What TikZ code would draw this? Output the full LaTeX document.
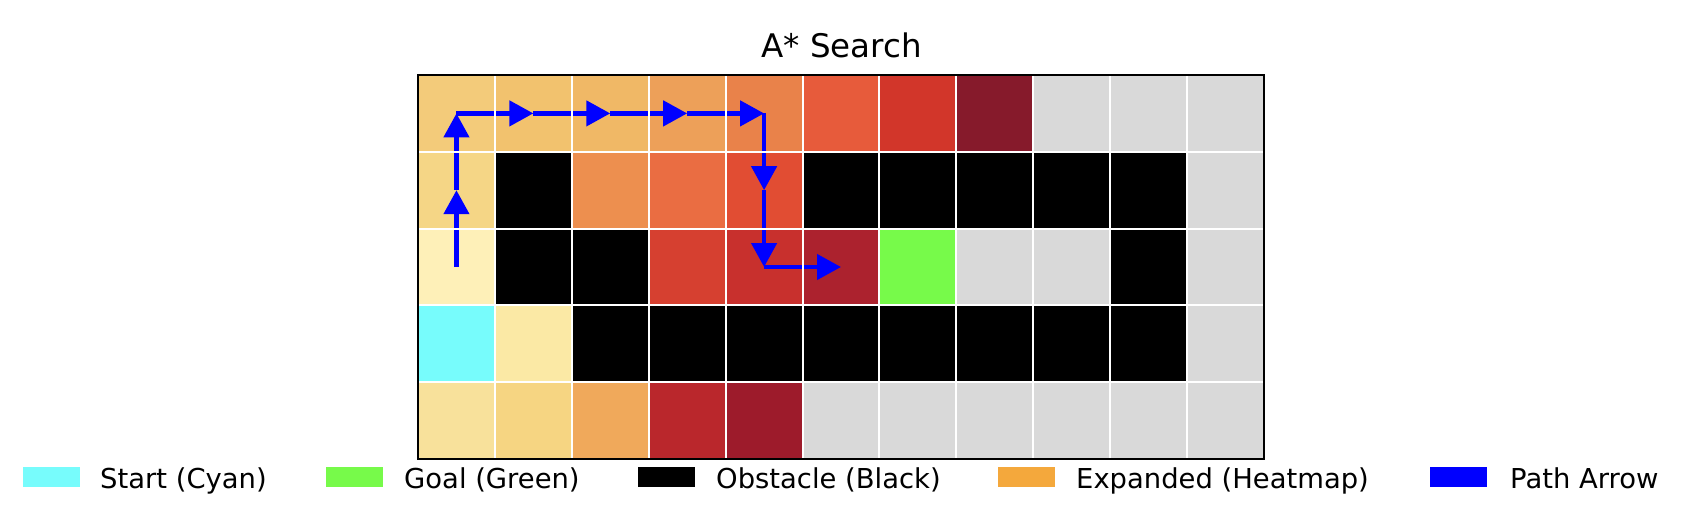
\documentclass[tikz,border=0pt]{standalone}
\usepackage{fontspec}
\setmainfont{DejaVu Sans}
\usetikzlibrary{arrows.meta}
\definecolor{h00}{HTML}{F3CB7A}\definecolor{h01}{HTML}{F2C26E}\definecolor{h02}{HTML}{F0B866}
\definecolor{h03}{HTML}{EDA059}\definecolor{h04}{HTML}{E9824A}\definecolor{h05}{HTML}{E75B3B}
\definecolor{h06}{HTML}{D2362A}\definecolor{h07}{HTML}{861A2B}
\definecolor{h10}{HTML}{F5D686}\definecolor{h12}{HTML}{ED8F4F}\definecolor{h13}{HTML}{EA6D42}
\definecolor{h14}{HTML}{E14D33}
\definecolor{h20}{HTML}{FEF0B8}\definecolor{h23}{HTML}{D64030}\definecolor{h24}{HTML}{C8302D}
\definecolor{h25}{HTML}{AC222E}
\definecolor{h31}{HTML}{FBE9A5}
\definecolor{h40}{HTML}{F8E19B}\definecolor{h41}{HTML}{F6D582}\definecolor{h42}{HTML}{F0A95B}
\definecolor{h43}{HTML}{BA272C}\definecolor{h44}{HTML}{9D1B2B}
\definecolor{gr}{HTML}{D9D9D9}
\definecolor{bk}{HTML}{000000}
\definecolor{startc}{HTML}{77FCFC}
\definecolor{goalc}{HTML}{77FA4A}
\definecolor{expc}{HTML}{F4A83C}
\definecolor{pathc}{HTML}{0000FF}
\tikzset{
  cell/.style={minimum width=76.91pt, minimum height=76.8pt, inner sep=0pt, outer sep=0pt, draw=none},
  gridline/.style={draw=white, line width=2pt},
  patharrow/.style={draw=pathc, line width=4.5pt, -{Triangle[length=24pt,width=25pt]}},
  patch/.style={minimum width=57pt, minimum height=20pt, inner sep=0pt, outer sep=0pt, draw=none},
  legtext/.style={anchor=base west, inner sep=0pt, font=\fontsize{27.4}{30}\selectfont},
}
\begin{document}
\begin{tikzpicture}[x=1pt,y=-1pt]
\useasboundingbox[fill=white] (0,0) rectangle (1690,508);
% cells
\foreach \r/\cols in {
  0/{h00,h01,h02,h03,h04,h05,h06,h07,gr,gr,gr},
  1/{h10,bk,h12,h13,h14,bk,bk,bk,bk,bk,gr},
  2/{h20,bk,bk,h23,h24,h25,goalc,gr,gr,bk,gr},
  3/{startc,h31,bk,bk,bk,bk,bk,bk,bk,bk,gr},
  4/{h40,h41,h42,h43,h44,gr,gr,gr,gr,gr,gr}}{
  \foreach \col [count=\c from 0] in \cols {
    \node[cell, fill=\col] (c-\r-\c) at ({418+76.91*(\c+0.5)}, {75+76.8*(\r+0.5)}) {};
  }
}
% path arrows
\draw[patharrow] (c-2-0.center) -- (c-1-0.center);
\draw[patharrow] (c-1-0.center) -- (c-0-0.center);
\draw[patharrow] (c-0-0.center) -- (c-0-1.center);
\draw[patharrow] (c-0-1.center) -- (c-0-2.center);
\draw[patharrow] (c-0-2.center) -- (c-0-3.center);
\draw[patharrow] (c-0-3.center) -- (c-0-4.center);
\draw[patharrow] (c-0-4.center) -- (c-1-4.center);
\draw[patharrow] (c-1-4.center) -- (c-2-4.center);
\draw[patharrow] (c-2-4.center) -- (c-2-5.center);
% grid lines
\foreach \c in {1,...,10} \draw[gridline] (c-0-\c.north west) -- (c-4-\c.south west);
\foreach \r in {1,...,4} \draw[gridline] (c-\r-0.north west) -- (c-\r-10.north east);
% border
\draw[black, line width=1.8pt] (c-0-0.north west) rectangle (c-4-10.south east);
% title
\node[anchor=base, inner sep=0pt, font=\fontsize{32.5}{36}\selectfont] (title) at (841.5,57.7) {A* Search};
% legend
\node[patch, fill=startc] (lp1) at (51.5,477) {};
\node[legtext] (lt1) at (100,488) {Start (Cyan)};
\node[patch, fill=goalc] (lp2) at (354,477) {};
\node[legtext] (lt2) at (404,488) {Goal (Green)};
\node[patch, fill=black] (lp3) at (666,477) {};
\node[legtext] (lt3) at (716,488) {Obstacle (Black)};
\node[patch, fill=expc] (lp4) at (1026,477) {};
\node[legtext] (lt4) at (1076,488) {Expanded (Heatmap)};
\node[patch, fill=pathc] (lp5) at (1458.5,477) {};
\node[legtext] (lt5) at (1510,488) {Path Arrow};
\end{tikzpicture}
\end{document}
